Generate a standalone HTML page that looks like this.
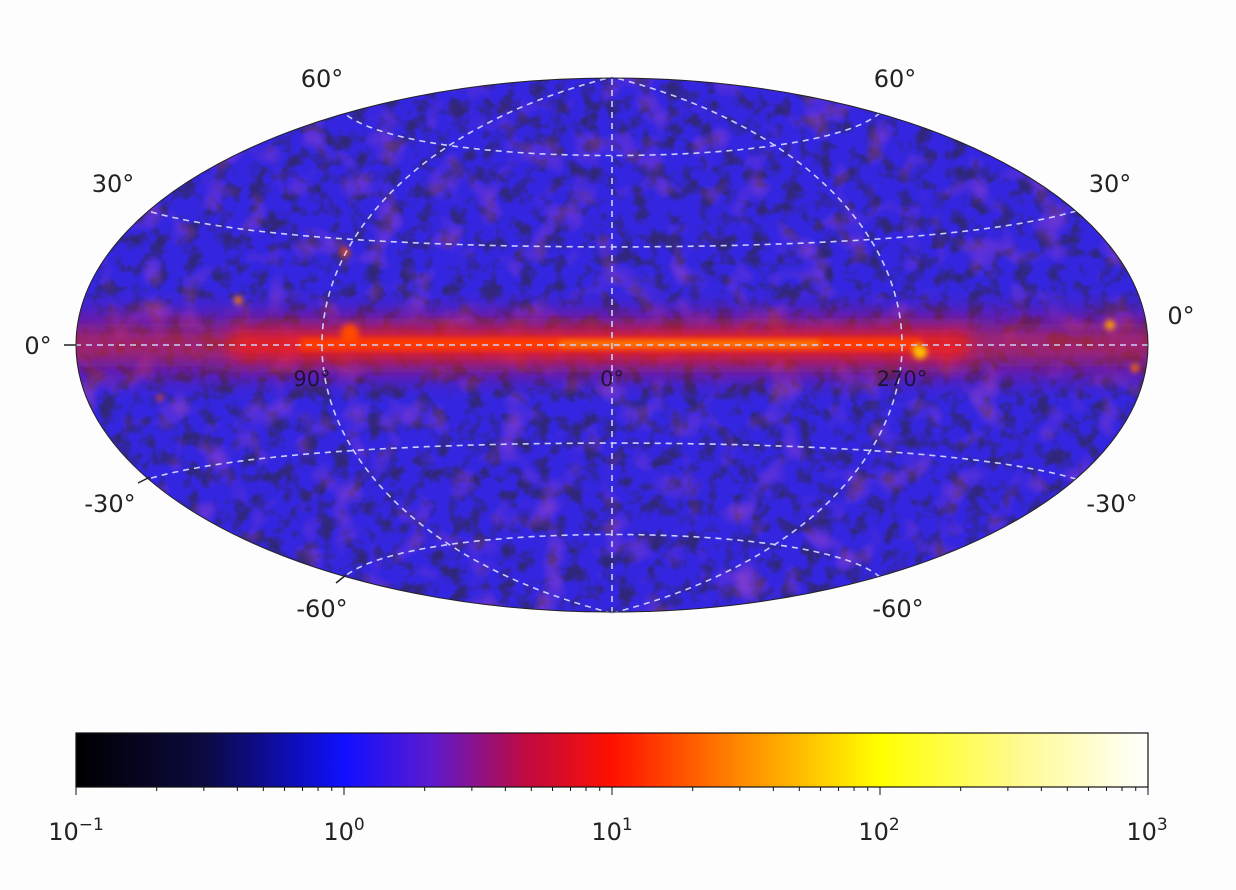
<!DOCTYPE html>
<html><head><meta charset="utf-8"><style>
html,body{margin:0;padding:0;background:#fdfdfd;}
svg{display:block;}
text{font-family:"DejaVu Sans","Liberation Sans",sans-serif;fill:#222;}
</style></head><body>
<svg id="s" width="1236" height="890" viewBox="0 0 1236 890" xmlns="http://www.w3.org/2000/svg">
<defs>
<clipPath id="ell"><ellipse cx="612" cy="345" rx="536" ry="267"/></clipPath>
<filter id="noise" x="0" y="0" width="100%" height="100%">
<feTurbulence type="fractalNoise" baseFrequency="0.06" numOctaves="3" seed="4"/>
<feColorMatrix type="matrix" values="0 0 0 0 0.03  0 0 0 0 0.02  0 0 0 0 0.2  0 0 0 -3.5 1.9"/>
</filter>
<filter id="noise2" x="0" y="0" width="100%" height="100%">
<feTurbulence type="fractalNoise" baseFrequency="0.03" numOctaves="2" seed="9"/>
<feColorMatrix type="matrix" values="0 0 0 0 0.8  0 0 0 0 0.1  0 0 0 0 0.5  0 0 0 -2.5 1.2"/>
</filter>
<filter id="blur8"><feGaussianBlur stdDeviation="9"/></filter>
<filter id="blur3"><feGaussianBlur stdDeviation="3"/></filter>
<linearGradient id="cb" x1="0" x2="1" y1="0" y2="0">
<stop offset="0" stop-color="#000000"/>
<stop offset="0.12" stop-color="#0c0a40"/>
<stop offset="0.25" stop-color="#1010ff"/>
<stop offset="0.33" stop-color="#5a1ad0"/>
<stop offset="0.42" stop-color="#c00a40"/>
<stop offset="0.5" stop-color="#ff1000"/>
<stop offset="0.62" stop-color="#ff8a00"/>
<stop offset="0.75" stop-color="#ffff00"/>
<stop offset="0.88" stop-color="#fffa90"/>
<stop offset="1" stop-color="#ffffff"/>
</linearGradient>
<linearGradient id="band" x1="0" x2="0" y1="0" y2="1">
<stop offset="0" stop-color="#ff2000" stop-opacity="0"/>
<stop offset="0.3" stop-color="#e01030" stop-opacity="0.6"/>
<stop offset="0.45" stop-color="#ff2000" stop-opacity="1"/>
<stop offset="0.5" stop-color="#ff3800" stop-opacity="1"/>
<stop offset="0.55" stop-color="#ff2000" stop-opacity="1"/>
<stop offset="0.7" stop-color="#e01030" stop-opacity="0.6"/>
<stop offset="1" stop-color="#ff2000" stop-opacity="0"/>
</linearGradient>
</defs>
<g clip-path="url(#ell)">
<rect x="70" y="70" width="1090" height="550" fill="#3426e0"/>
<rect x="70" y="70" width="1090" height="550" filter="url(#noise)"/>
<rect x="70" y="70" width="1090" height="550" filter="url(#noise2)" opacity="0.4"/>
<g filter="url(#blur8)">
<rect x="60" y="300" width="1100" height="90" fill="url(#band)" opacity="0.6"/>
<rect x="230" y="318" width="740" height="54" fill="url(#band)"/>
</g>
<g filter="url(#blur3)">
<rect x="300" y="338" width="620" height="12" fill="#ff3a00"/>
<rect x="560" y="341" width="260" height="6" fill="#ff7a00"/>
<circle cx="350" cy="333" r="9" fill="#ff4a00"/>
<circle cx="920" cy="352" r="7" fill="#ffc000"/>
<circle cx="1110" cy="325" r="5" fill="#ffa000"/>
<circle cx="1135" cy="368" r="4" fill="#ff7000"/>
<circle cx="238" cy="300" r="4" fill="#ff8000"/>
<circle cx="345" cy="252" r="4" fill="#ff5000"/>
<circle cx="160" cy="398" r="3" fill="#ff5000"/>
</g>
</g>
<g id="grid" fill="none" stroke="#c8d0ff" stroke-width="1.6" stroke-dasharray="6,5"></g>
<ellipse cx="612" cy="345" rx="536" ry="267" fill="none" stroke="#222" stroke-width="1"/>
<g stroke="#222" stroke-width="1.5">
<line x1="64" y1="345" x2="76" y2="345"/>
<line x1="138" y1="483" x2="150" y2="477"/>
<line x1="336" y1="583" x2="346" y2="575"/>
</g>
<g font-size="24">
<text x="322" y="87" text-anchor="middle">60°</text>
<text x="895" y="87" text-anchor="middle">60°</text>
<text x="113" y="192" text-anchor="middle">30°</text>
<text x="1110" y="192" text-anchor="middle">30°</text>
<text x="38" y="354" text-anchor="middle">0°</text>
<text x="1181" y="324" text-anchor="middle">0°</text>
<text x="110" y="512" text-anchor="middle">-30°</text>
<text x="1112" y="512" text-anchor="middle">-30°</text>
<text x="322" y="617" text-anchor="middle">-60°</text>
<text x="898" y="617" text-anchor="middle">-60°</text>
</g>
<g font-size="21" opacity="0.8">
<text x="312" y="386" text-anchor="middle" style="fill:#111">90°</text>
<text x="612" y="386" text-anchor="middle" style="fill:#111">0°</text>
<text x="902" y="386" text-anchor="middle" style="fill:#111">270°</text>
</g>
<rect x="76" y="733" width="1072" height="54" fill="url(#cb)" stroke="#111" stroke-width="1.2"/>
<g id="ticks" stroke="#111" stroke-width="1"></g>
<g font-size="24">
<text x="76" y="840" text-anchor="middle">10<tspan dy="-10" font-size="17">−1</tspan></text>
<text x="344" y="840" text-anchor="middle">10<tspan dy="-10" font-size="17">0</tspan></text>
<text x="612" y="840" text-anchor="middle">10<tspan dy="-10" font-size="17">1</tspan></text>
<text x="879" y="840" text-anchor="middle">10<tspan dy="-10" font-size="17">2</tspan></text>
<text x="1147" y="840" text-anchor="middle">10<tspan dy="-10" font-size="17">3</tspan></text>
</g>
</svg>
<script>
var NS="http://www.w3.org/2000/svg",S=189.5,cx=612,cy=345,D=Math.PI/180;
function P(l,b){l*=D;b*=D;var d=Math.sqrt(1+Math.cos(b)*Math.cos(l/2));return[cx-S*2*Math.SQRT2*Math.cos(b)*Math.sin(l/2)/d,cy-S*Math.SQRT2*Math.sin(b)/d];}
var g=document.getElementById('grid');
function path(pts){var p=document.createElementNS(NS,'path');p.setAttribute('d','M'+pts.map(function(q){return q[0].toFixed(1)+','+q[1].toFixed(1)}).join('L'));g.appendChild(p);}
[-60,-30,0,30,60].forEach(function(b){var a=[];for(var l=-180;l<=180;l+=2)a.push(P(l,b));path(a);});
[-90,0,90].forEach(function(l){var a=[];for(var b=-90;b<=90;b+=2)a.push(P(l,b));path(a);});
var t=document.getElementById('ticks');
for(var e=-1;e<3;e++)for(var k=1;k<=10;k++){var x=76+(e+1+Math.log10(k))*268;var L=document.createElementNS(NS,'line');L.setAttribute('x1',x);L.setAttribute('x2',x);L.setAttribute('y1',787);L.setAttribute('y2',k==1||k==10?795:791);t.appendChild(L);}
</script>
</body></html>
